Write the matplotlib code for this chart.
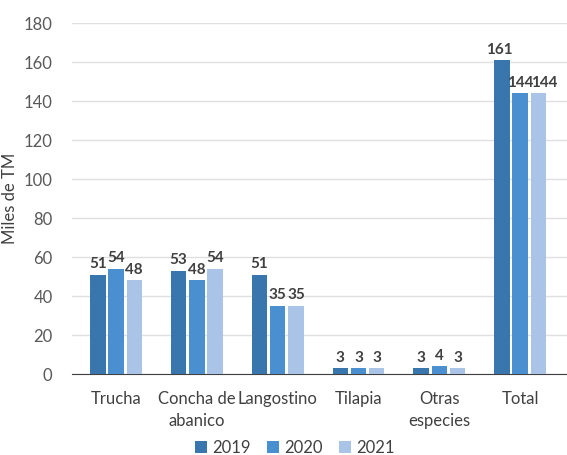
import matplotlib
matplotlib.use("Agg")
import matplotlib.pyplot as plt
import numpy as np

plt.rcParams['font.family'] = ['Lato', 'DejaVu Sans']

categories = ["Trucha", "Concha de\nabanico", "Langostino", "Tilapia", "Otras\nespecies", "Total"]
years = ["2019", "2020", "2021"]
v2019 = [51, 53, 51, 3, 3, 161]
v2020 = [54, 48, 35, 3, 4, 144]
v2021 = [48, 54, 35, 3, 3, 144]
colors = ["#3A76AE", "#4A8FD0", "#A9C4E6"]

fig = plt.figure(figsize=(5.67, 4.55), dpi=100)
ax = fig.add_axes([0.127, 0.178, 0.873, 0.771])

x = np.arange(len(categories))
w = 0.19
step = 0.225
series = [v2019, v2020, v2021]
for i, (vals, c, yr) in enumerate(zip(series, colors, years)):
    pos = x + (i - 1) * step
    ax.bar(pos, vals, width=w, color=c, label=yr, zorder=3)
    for j, (p, v) in enumerate(zip(pos, vals)):
        dx = 0
        if v >= 100:  # wide three-digit labels: spread apart like the source
            dx = (i - 1) * 2.0 + (2.5 if i == 2 else 0)
        ax.annotate(str(v), (p, v), xytext=(dx, 2.5), textcoords='offset points',
                    ha='center', va='bottom', fontsize=11,
                    fontweight='bold', color='#404040', zorder=4)

ax.set_xlim(-0.545, 5.58)
ax.set_ylim(0, 180)
ax.set_yticks(range(0, 181, 20))
ax.grid(axis='y', color='#E0E0E0', linewidth=1, zorder=0)
ax.set_xticks(x)
ax.set_xticklabels(categories, fontsize=12, color='#404040', linespacing=1.5)
ax.tick_params(axis='y', labelsize=12, colors='#595959', length=0, pad=14)
ax.tick_params(axis='x', length=0, pad=12)
for s in ['top', 'right', 'left']:
    ax.spines[s].set_visible(False)
ax.spines['bottom'].set_color('#404040')
ax.set_ylabel("Miles de TM", fontsize=12, color='#404040', labelpad=4)

leg = fig.legend(loc='lower center', bbox_to_anchor=(0.52, -0.035), ncol=3, frameon=False,
                 fontsize=12, handlelength=0.7, handleheight=0.7, handletextpad=0.3,
                 columnspacing=1.0)
for t in leg.get_texts():
    t.set_color('#404040')

fig.savefig("out.png", dpi=100)
